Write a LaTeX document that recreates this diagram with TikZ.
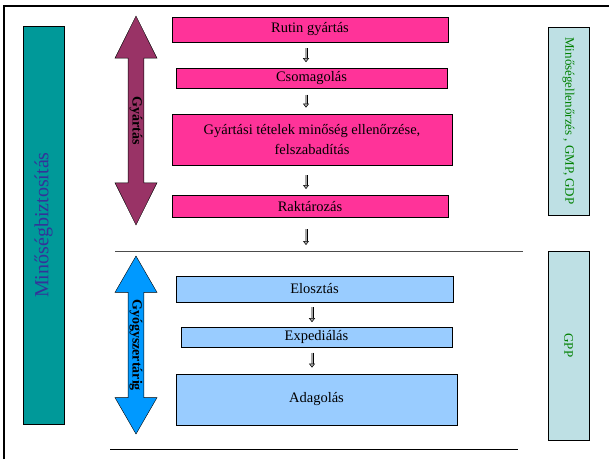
\documentclass[tikz,border=0pt]{standalone}
\usepackage{fontspec}
\setmainfont{Liberation Serif}
\usetikzlibrary{shapes.arrows, positioning, arrows.meta}

\definecolor{gyPink}{RGB}{255,51,153}
\definecolor{gyMaroon}{RGB}{153,51,102}
\definecolor{gyBlue}{RGB}{0,153,255}
\definecolor{gyLight}{RGB}{153,204,255}
\definecolor{gyTeal}{RGB}{0,153,153}
\definecolor{gyCyan}{RGB}{190,224,228}
\definecolor{gyGreen}{RGB}{0,128,0}
\definecolor{gyIndigo}{RGB}{51,51,153}

\begin{document}
\begin{tikzpicture}[
    x=1pt, y=-1pt,
    pbox/.style={rectangle, draw, fill=gyPink, inner sep=0pt, align=center, font=\fontsize{14.5}{20.5}\selectfont},
    bbox/.style={rectangle, draw, fill=gyLight, inner sep=0pt, align=center, font=\fontsize{14.5}{20.5}\selectfont},
    sidebox/.style={rectangle, draw, fill=gyCyan, inner sep=0pt, minimum height=41pt, text=gyGreen, font=\fontsize{13}{15}\selectfont},
    bigarr/.style={double arrow, draw, inner sep=0pt, minimum width=42pt, double arrow head extend=11pt, font=\bfseries\fontsize{14}{16}\selectfont},
    dnarr/.style={draw=black, line width=0.5pt, double=gray!70, double distance=2pt, -{Triangle[length=4pt, width=6pt, fill=gray!70]}, shorten <=6pt, shorten >=6pt},
    sepline/.style={draw, line width=1pt}
]
    \useasboundingbox (0,0) rectangle (609,459);
    % outer frame
    \draw[line width=2pt] (4,459) -- (4,6) -- (609,6);

    % left column
    \node[rectangle, draw, fill=gyTeal, inner sep=0pt, minimum width=398pt, minimum height=41pt, rotate=90, text=gyIndigo, font=\fontsize{20}{22}\selectfont] (qa) at (43.5,225) {Minőségbiztosítás};

    % big double arrows
    \node[bigarr, fill=gyMaroon, minimum height=209pt, double arrow tip angle=53, rotate=-90] (gyart) at (136,120.5) {Gyártás};
    \node[bigarr, fill=gyBlue, minimum height=178pt, double arrow tip angle=60, rotate=-90] (patika) at (136,345) {Gyógyszertárig};

    % production steps
    \node[pbox, minimum width=276pt, minimum height=25pt] (rutin) at (310,29.5) {Rutin gyártás};
    \node[pbox, minimum width=271pt, minimum height=20pt, below=26pt of rutin, xshift=1.5pt] (csomag) {Csomagolás};
    \node[pbox, minimum width=280pt, minimum height=51pt, below=25pt of csomag, xshift=0.5pt] (tetel) {Gyártási tételek minőség ellenőrzése,\\felszabadítás};
    \node[pbox, minimum width=276pt, minimum height=22pt, below=30pt of tetel, xshift=-2pt] (raktar) {Raktározás};

    % separators
    \draw[sepline, draw=black!70] (115,251) coordinate (sepA) -- (523,251) coordinate (sepB);
    \draw[sepline] (110,449) coordinate (botA) -- (518,449) coordinate (botB);

    % distribution steps
    \node[bbox, minimum width=277pt, minimum height=26pt] (eloszt) at (314.5,289) {Elosztás};
    \node[bbox, minimum width=271pt, minimum height=20pt, below=25pt of eloszt, xshift=2pt] (exped) {Expediálás};
    \node[bbox, minimum width=281pt, minimum height=51pt, below=26pt of exped] (adag) {Adagolás};

    % right column
    \node[sidebox, minimum width=188pt, rotate=-90] (gmp) at (568.5,121) {Minőségellenőrzés , GMP, GDP};
    \node[sidebox, minimum width=189pt, rotate=-90] (gpp) at (568.5,345.5) {GPP};

    % small arrows
    \draw[dnarr] ([xshift=-4pt]rutin.south) -- ([xshift=-4pt]rutin.south |- csomag.north);
    \draw[dnarr] ([xshift=-5.5pt]csomag.south) -- ([xshift=-5.5pt]csomag.south |- tetel.north);
    \draw[dnarr, shorten <=10pt] ([xshift=-6pt]tetel.south) -- ([xshift=-6pt]tetel.south |- raktar.north);
    \draw[dnarr, shorten <=12pt] ([xshift=-4pt]raktar.south) -- ([xshift=-4pt]raktar.south |- sepA);
    \draw[dnarr, shorten <=5pt, shorten >=5pt] ([xshift=-2.5pt]eloszt.south) -- ([xshift=-2.5pt]eloszt.south |- exped.north);
    \draw[dnarr, shorten <=5pt] ([xshift=-4.5pt]exped.south) -- ([xshift=-4.5pt]exped.south |- adag.north);
\end{tikzpicture}
\end{document}
